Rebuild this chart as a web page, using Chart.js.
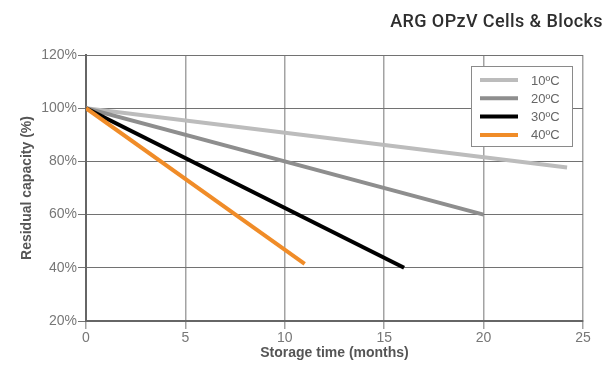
<!DOCTYPE html>
<html>
<head>
<meta charset="utf-8">
<script src="https://cdn.jsdelivr.net/npm/chart.js@4.4.0/dist/chart.umd.min.js"></script>
<style>
  html, body { margin: 0; padding: 0; background: #fff; }
  #wrap { width: 605px; height: 366px; }
</style>
</head>
<body>
<div id="wrap"><canvas id="chart"></canvas></div>
<script>
const chartTitle = "ARG OPzV Cells & Blocks";
const seriesLabels = ["10ºC", "20ºC", "30ºC", "40ºC"];
const seriesColors = ["#bcbcbc", "#8e8e8e", "#000000", "#f08c28"];
// storage time (months) and residual capacity (%) for each curve
const months10 = [0, 24.2];
const capacity10 = [100, 77.7];
const months20 = [0, 20];
const capacity20 = [100, 60];
const months30 = [0, 16];
const capacity30 = [100, 40];
const months40 = [0, 11];
const capacity40 = [100, 41.5];
const xTicks = [0, 5, 10, 15, 20, 25];
const yTicks = [20, 40, 60, 80, 100, 120];

const allMonths = [months10, months20, months30, months40];
const allCapacity = [capacity10, capacity20, capacity30, capacity40];

const datasets = seriesLabels.map((label, i) => ({
    label: label,
    data: allMonths[i].map((m, j) => ({ x: m, y: allCapacity[i][j] })),
    borderColor: seriesColors[i],
    backgroundColor: seriesColors[i],
    borderWidth: 4,
    pointRadius: 0,
    borderCapStyle: "butt",
    tension: 0,
}));
// draw the lighter lines last so the order matches the picture
datasets.reverse();

const boxLegend = {
    id: "boxLegend",
    afterDraw(chart) {
        const ctx = chart.ctx;
        ctx.save();
        // title, right aligned to the canvas edge
        ctx.font = "500 18px Roboto";
        ctx.letterSpacing = "0.4px";
        ctx.fillStyle = "#2e2e2e";
        ctx.textAlign = "right";
        ctx.textBaseline = "middle";
        ctx.fillText(chartTitle, 603, 22);
        ctx.letterSpacing = "0px";

        // legend box
        ctx.fillStyle = "#fff";
        ctx.fillRect(471, 66, 101, 80);
        ctx.strokeStyle = "#8a8a8a";
        ctx.lineWidth = 1;
        ctx.strokeRect(471.5, 66.5, 101, 80);
        ctx.font = "13px 'Liberation Sans', Arial, sans-serif";
        ctx.textAlign = "left";
        seriesLabels.forEach((label, i) => {
            const y = 80 + i * 18.3;
            ctx.strokeStyle = seriesColors[i];
            ctx.lineWidth = 4;
            ctx.beginPath();
            ctx.moveTo(480, y);
            ctx.lineTo(518, y);
            ctx.stroke();
            ctx.fillStyle = "#666";
            ctx.fillText(label, 531, y + 1);
        });
        ctx.restore();
    },
};

const tickFont = { family: "'Liberation Sans', Arial, sans-serif", size: 14 };
const titleFont = { family: "'Liberation Sans', Arial, sans-serif", size: 14, weight: "bold" };

new Chart(document.getElementById("chart"), {
    type: "line",
    data: { datasets: datasets },
    plugins: [boxLegend],
    options: {
        responsive: true,
        maintainAspectRatio: false,
        animation: false,
        layout: { padding: { top: 55, right: 22, left: 0, bottom: 0 } },
        plugins: {
            legend: { display: false },
            tooltip: { enabled: false },
            title: { display: false },
        },
        scales: {
            x: {
                type: "linear",
                min: 0,
                max: 25,
                afterBuildTicks: (s) => { s.ticks = xTicks.map((v) => ({ value: v })); },
                afterFit: (s) => { s.height = 45; },
                grid: { color: "#a3a3a3", lineWidth: 1.5, tickLength: 8 },
                border: { color: "#666", width: 2 },
                ticks: { color: "#777", font: tickFont, padding: 1, maxRotation: 0 },
                title: {
                    display: true,
                    text: "Storage time (months)",
                    color: "#555",
                    font: titleFont,
                    padding: { top: 0, bottom: 4 },
                },
            },
            y: {
                min: 20,
                max: 120,
                afterBuildTicks: (s) => { s.ticks = yTicks.map((v) => ({ value: v })); },
                afterFit: (s) => { s.width = 86; },
                grid: { color: "#727272", lineWidth: 1, tickLength: 8 },
                border: { color: "#666", width: 2 },
                ticks: {
                    color: "#777",
                    font: tickFont,
                    padding: 1,
                    callback: (v) => v + "%",
                },
                title: {
                    display: true,
                    text: "Residual capacity (%)",
                    color: "#555",
                    font: titleFont,
                    padding: { top: 19, bottom: 0 },
                },
            },
        },
    },
});
</script>
</body>
</html>
